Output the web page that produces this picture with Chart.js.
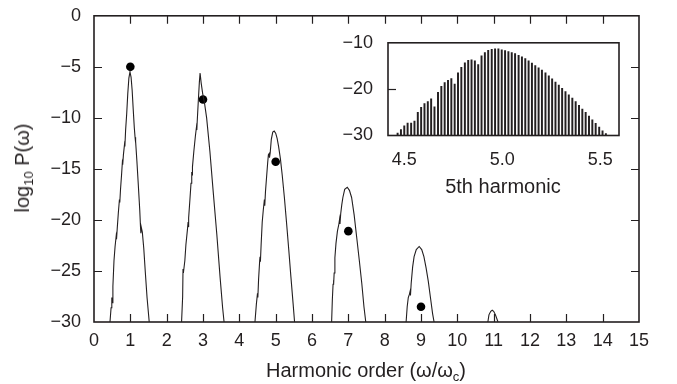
<!DOCTYPE html>
<html>
<head>
<meta charset="utf-8">
<script src="https://cdn.jsdelivr.net/npm/chart.js@4/dist/chart.umd.min.js"></script>
<style>
  html, body { margin: 0; padding: 0; background: #fff; }
  #wrap { position: relative; width: 677px; height: 384px; overflow: hidden;
          font-family: "Liberation Sans", Arial, sans-serif; color: #231f20; }
  #main  { position: absolute; left: 0; top: 0; }
  #inset { position: absolute; left: 330px; top: 25px; }
  .title { position: absolute; font-size: 20px; line-height: 20px; white-space: nowrap; text-align: center; }
  .title sub { font-size: 13px; vertical-align: -4px; line-height: 0; }
  #xTitle { left: 166px; width: 400px; top: 360px; }
  #yTitle { left: 22px; top: 168px; transform: translate(-50%, -50%) rotate(-90deg); }
  #insetTitle { left: 403px; width: 200px; top: 176px; }
</style>
</head>
<body>
<div id="wrap">
  <canvas id="main" width="677" height="384"></canvas>
  <canvas id="inset" width="300" height="175"></canvas>
  <div class="title" id="xTitle">Harmonic order (&omega;/&omega;<sub>c</sub>)</div>
  <div class="title" id="yTitle">log<sub>10</sub> P(&omega;)</div>
  <div class="title" id="insetTitle">5th harmonic</div>
</div>
<script>
// ── Spectrum envelope around each odd harmonic  [order, log10 P] ─────────
const harm1 = [[0.44,-30],[0.47,-28.6],[0.49,-27.6],[0.50,-28.1],[0.52,-26.5],[0.55,-24],[0.58,-22.6],
  [0.61,-21.6],[0.62,-21.9],[0.64,-20.8],[0.67,-19.3],[0.70,-18.0],[0.71,-18.3],[0.73,-17],[0.76,-15.5],
  [0.78,-14.4],[0.79,-14.6],[0.81,-13.6],[0.84,-12.6],[0.85,-12.8],[0.87,-11.2],[0.90,-9.6],[0.93,-7.6],
  [0.96,-6.1],[0.99,-5.5],[1.02,-6.0],[1.05,-7.3],[1.08,-9.2],[1.11,-11.0],[1.13,-11.9],[1.14,-12.4],
  [1.15,-12.3],[1.18,-14.2],[1.22,-16.6],[1.26,-19.1],[1.28,-20.7],[1.29,-21.3],[1.30,-20.7],[1.33,-21.2],
  [1.37,-22.8],[1.41,-25],[1.46,-27.6],[1.52,-30]];
const harm3 = [[2.41,-30],[2.44,-27.5],[2.45,-24.8],[2.46,-25.2],[2.50,-24],[2.53,-22.4],[2.57,-21],
  [2.59,-20.2],[2.60,-20.7],[2.61,-19.8],[2.64,-18.0],[2.67,-16.4],[2.69,-15.3],[2.70,-15.6],[2.71,-14.8],
  [2.75,-13.2],[2.79,-11.8],[2.82,-10.9],[2.83,-11.2],[2.84,-10.4],[2.87,-8.4],[2.90,-6.5],[2.92,-5.6],
  [2.95,-6.6],[2.99,-7.6],[3.04,-8.5],[3.10,-10],[3.19,-13.3],[3.28,-17.2],[3.38,-21.4],[3.47,-25.6],
  [3.54,-28.6],[3.58,-30]];
const harm5 = [[4.43,-30],[4.47,-28.2],[4.50,-27.2],[4.51,-27.6],[4.53,-25.8],[4.56,-24.0],[4.57,-23.6],
  [4.58,-24.1],[4.60,-22.4],[4.63,-20.2],[4.66,-19.0],[4.69,-18.0],[4.70,-18.6],[4.72,-17.2],[4.75,-15.8],
  [4.78,-14.4],[4.80,-13.6],[4.82,-13.5],[4.83,-13.9],[4.85,-13.4],[4.88,-12.1],[4.92,-11.4],[4.96,-11.3],
  [5.00,-11.5],[5.04,-12.0],[5.08,-12.8],[5.13,-14],[5.18,-15.6],[5.24,-17.8],[5.30,-20.3],[5.36,-22.9],
  [5.42,-25.6],[5.48,-28.2],[5.52,-30]];
const harm7 = [[6.54,-30],[6.56,-27.8],[6.58,-26.3],[6.59,-25.9],[6.60,-26.3],[6.61,-25.2],[6.63,-23.7],
  [6.66,-22.3],[6.70,-21.1],[6.74,-20.4],[6.76,-19.9],[6.77,-20.4],[6.79,-19.4],[6.82,-18.5],[6.85,-17.8],
  [6.90,-17.0],[6.97,-16.8],[7.03,-17.1],[7.09,-17.8],[7.16,-19.5],[7.23,-21.7],[7.30,-23.9],[7.37,-26.2],
  [7.43,-28.5],[7.48,-30]];
const harm9 = [[8.59,-30],[8.62,-28.5],[8.65,-27.6],[8.68,-27.3],[8.70,-27.0],[8.71,-27.4],[8.73,-26.2],
  [8.77,-24.6],[8.81,-23.6],[8.87,-22.9],[8.95,-22.6],[9.02,-22.9],[9.08,-23.6],[9.14,-24.7],[9.20,-26],
  [9.26,-27.6],[9.32,-29.2],[9.36,-30]];
const harm11 = [[10.84,-30],[10.87,-29.3],[10.92,-28.95],[10.96,-28.85],[11.00,-28.95],[11.05,-29.3],
  [11.10,-29.8],[11.12,-30]];

// ── Dots: single-harmonic estimate ──────────────────────────────────────
const dotX = [1, 3, 5, 7, 9];
const dotY = [-5.0, -8.2, -14.3, -21.1, -28.5];

// ── Inset: fine structure of the 5th harmonic ───────────────────────────
const fineX = [4.466,4.483,4.500,4.517,4.535,4.552,4.569,4.586,4.603,4.620,4.637,4.654,4.672,4.689,
  4.706,4.723,4.740,4.757,4.774,4.791,4.809,4.826,4.843,4.860,4.877,4.894,4.911,4.928,4.946,4.963,
  4.980,4.997,5.014,5.031,5.048,5.065,5.083,5.100,5.117,5.134,5.151,5.168,5.185,5.202,5.220,5.237,
  5.254,5.271,5.288,5.305,5.322,5.339,5.357,5.374,5.391,5.408,5.425,5.442,5.459,5.476,5.494,5.511,5.528];
const fineY = [-29.5,-28.7,-27.9,-27.3,-27.3,-26.9,-25.0,-23.9,-23.1,-22.7,-22.1,-23.8,-20.7,-19.4,
  -18.6,-18.1,-17.7,-18.9,-16.5,-15.3,-14.3,-13.8,-13.7,-13.9,-14.7,-12.8,-12.1,-11.6,-11.4,-11.3,
  -11.3,-11.5,-11.7,-11.9,-12.1,-12.3,-12.7,-13.0,-13.4,-13.9,-14.4,-14.9,-15.4,-15.9,-16.5,-17.1,
  -17.8,-18.5,-19.1,-19.8,-20.5,-21.2,-21.9,-22.7,-23.5,-24.3,-25.0,-25.8,-26.6,-27.4,-28.2,-29.0,-29.6];

// ── Tick values ─────────────────────────────────────────────────────────
const xTicks     = [0,1,2,3,4,5,6,7,8,9,10,11,12,13,14,15];
const yTicks     = [-30,-25,-20,-15,-10,-5,0];
const fineXTicks = [4.5, 5.0, 5.5];
const fineYTicks = [-30, -20, -10];

const INK  = '#231f20';
const FONT = { family: '"Liberation Sans", Arial, sans-serif', size: 18 };
const minus = v => String(v).replace('-', '\u2212');

// frame + inward tick marks, placed through the chart's own scales
const framePlugin = {
  id: 'frame',
  afterDraw(chart, args, opts) {
    const { ctx, chartArea: a, scales: { x, y } } = chart;
    const len = opts.len;
    ctx.save();
    ctx.strokeStyle = INK;
    ctx.lineWidth = 1.2;
    ctx.beginPath();
    (opts.xMarks || []).forEach(v => {
      const px = Math.round(x.getPixelForValue(v)) + 0.5;
      ctx.moveTo(px, a.bottom); ctx.lineTo(px, a.bottom - len);
      if (opts.top) { ctx.moveTo(px, a.top); ctx.lineTo(px, a.top + len); }
    });
    (opts.yMarks || []).forEach(v => {
      const py = Math.round(y.getPixelForValue(v)) + 0.5;
      ctx.moveTo(a.left, py); ctx.lineTo(a.left + len, py);
      if (opts.right) { ctx.moveTo(a.right, py); ctx.lineTo(a.right - len, py); }
    });
    ctx.stroke();
    ctx.lineWidth = opts.width;
    ctx.strokeRect(a.left, a.top, a.right - a.left, a.bottom - a.top);
    ctx.restore();
  }
};

const curve = pts => ({
  data: pts.map(([x, y]) => ({ x, y })),
  showLine: true, borderColor: INK, borderWidth: 1.1, pointRadius: 0, tension: 0,
});

new Chart(document.getElementById('main'), {
  type: 'scatter',
  data: {
    datasets: [
      curve(harm1), curve(harm3), curve(harm5), curve(harm7), curve(harm9), curve(harm11),
      {
        data: dotX.map((x, i) => ({ x, y: dotY[i] })),
        pointRadius: 4.3, backgroundColor: '#000', borderColor: '#000', borderWidth: 0,
      },
    ],
  },
  options: {
    responsive: false,
    animation: false,
    layout: { padding: { left: 0, top: 14, right: 38, bottom: 0 } },
    plugins: {
      legend: { display: false },
      tooltip: { enabled: false },
      frame: { len: 8, width: 1.6, top: true, right: true,
               xMarks: xTicks.slice(1, -1), yMarks: yTicks.slice(1, -1) },
    },
    scales: {
      x: {
        type: 'linear', min: 0, max: 15,
        afterFit: s => { s.height = 62; },
        afterBuildTicks: s => { s.ticks = xTicks.map(value => ({ value })); },
        ticks: { color: INK, font: FONT, padding: 0, maxRotation: 0, autoSkip: false },
        grid: { display: false }, border: { display: false },
      },
      y: {
        min: -30, max: 0,
        afterFit: s => { s.width = 94; },
        afterBuildTicks: s => { s.ticks = yTicks.map(value => ({ value })); },
        ticks: { color: INK, font: FONT, padding: 5, callback: minus },
        grid: { display: false }, border: { display: false },
      },
    },
  },
  plugins: [framePlugin],
});

new Chart(document.getElementById('inset'), {
  type: 'bar',
  data: {
    datasets: [{
      data: fineX.map((x, i) => ({ x, y: [-30, fineY[i]] })),
      backgroundColor: INK, borderWidth: 0, barThickness: 1.3, grouped: false,
    }],
  },
  options: {
    responsive: false,
    animation: false,
    layout: { padding: { left: 0, top: 10, right: 11, bottom: 0 } },
    plugins: {
      legend: { display: false },
      tooltip: { enabled: false },
      frame: { len: 8, width: 1.6, yMarks: [-20] },
    },
    scales: {
      x: {
        type: 'linear', min: 4.417, max: 5.595, offset: false,
        afterFit: s => { s.height = 64.5; },
        afterBuildTicks: s => { s.ticks = fineXTicks.map(value => ({ value })); },
        ticks: { color: INK, font: FONT, padding: 6, callback: v => v.toFixed(1) },
        grid: { display: false, offset: false }, border: { display: false },
      },
      y: {
        min: -30, max: -10,
        afterFit: s => { s.width = 58; },
        afterBuildTicks: s => { s.ticks = fineYTicks.map(value => ({ value })); },
        ticks: { color: INK, font: FONT, padding: 7, callback: minus },
        grid: { display: false }, border: { display: false },
      },
    },
  },
  plugins: [framePlugin],
});
</script>
</body>
</html>
